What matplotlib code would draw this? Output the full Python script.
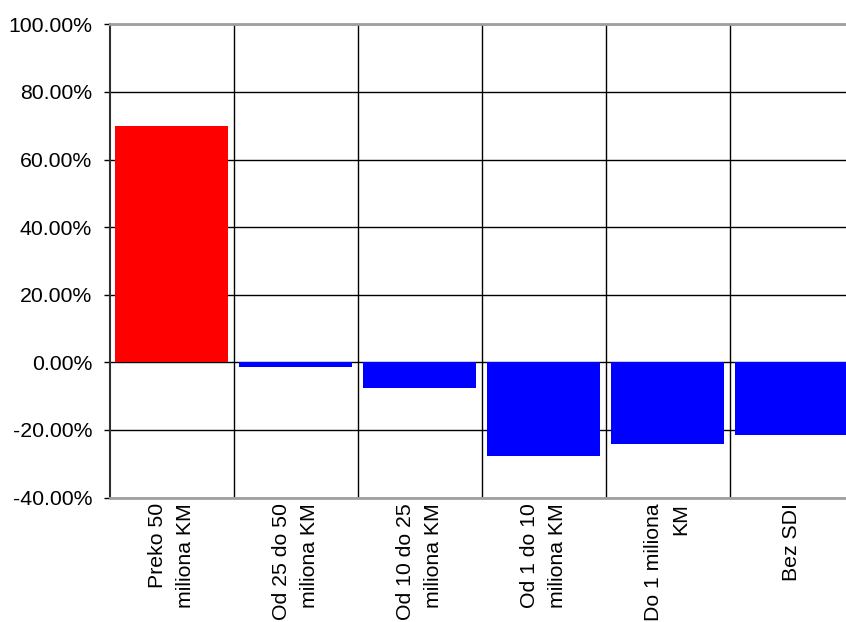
import matplotlib
matplotlib.use("Agg")
import matplotlib.pyplot as plt
from matplotlib.ticker import FuncFormatter, MultipleLocator

plt.rcParams['font.family'] = ['Liberation Sans', 'DejaVu Sans']

categories = ["Preko 50\nmiliona KM", "Od 25 do 50\nmiliona KM", "Od 10 do 25\nmiliona KM",
              "Od 1 do 10\nmiliona KM", "Do 1 miliona\nKM", "Bez SDI"]
values = [70.0, -1.3, -7.5, -27.6, -24.1, -21.5]
colors = ["#ff0000", "#0000ff", "#0000ff", "#0000ff", "#0000ff", "#0000ff"]

fig = plt.figure(figsize=(8.46, 6.22), dpi=100)
ax = fig.add_axes([109.5 / 846, 124.5 / 622, 744 / 846, 473.2 / 622])

x = list(range(len(categories)))
ax.bar(x, values, width=0.91, color=colors, zorder=3)

ax.set_xlim(-0.5, len(categories) - 0.5)
ax.set_ylim(-40, 100)
ax.yaxis.set_major_locator(MultipleLocator(20))
ax.yaxis.set_major_formatter(FuncFormatter(lambda v, p: "%.2f%%" % v))

ax.set_xticks(x)
ax.set_xticklabels(categories, rotation=90, ha='center', va='top', ma='right',
                   fontsize=15.3, linespacing=1.55)
ax.set_xticks([i + 0.5 for i in x[:-1]], minor=True)
ax.tick_params(axis='x', which='both', length=0, pad=4)
ax.tick_params(axis='y', length=4.5, width=1, direction='out', pad=8, labelsize=15.3, color='#000000')

ax.grid(axis='y', which='major', color='black', linewidth=1, zorder=0)
ax.grid(axis='x', which='minor', color='black', linewidth=1, zorder=0)
ax.set_axisbelow(True)

ax.spines['left'].set_color('#303030')
ax.spines['left'].set_linewidth(1.5)
ax.spines['top'].set_color('#a0a0a0')
ax.spines['top'].set_linewidth(2)
ax.spines['bottom'].set_color('#a0a0a0')
ax.spines['bottom'].set_linewidth(2)
ax.spines['right'].set_visible(False)

fig.savefig("out.png", dpi=100)
